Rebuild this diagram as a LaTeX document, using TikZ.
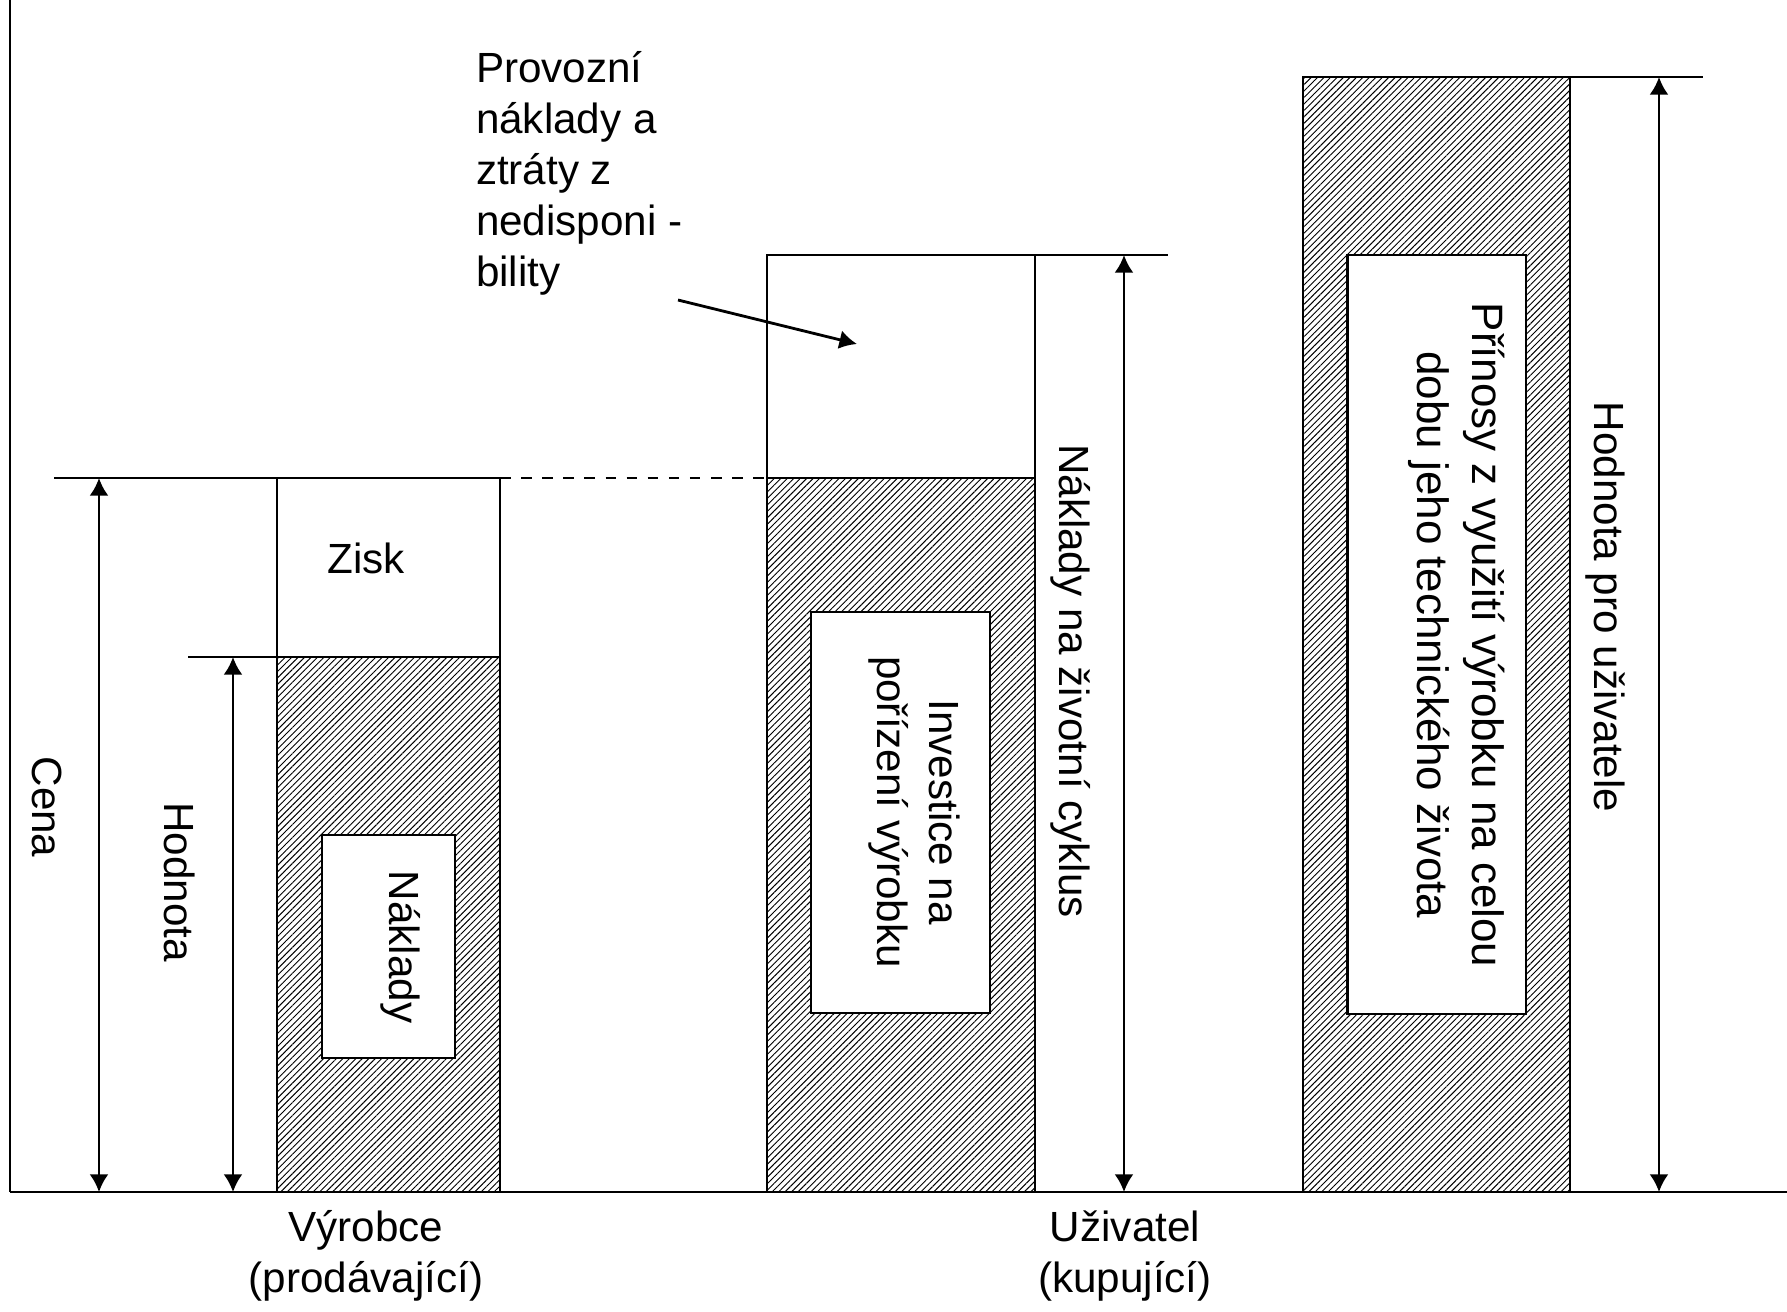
\documentclass[tikz,border=0pt]{standalone}
\usepackage{fontspec}
\setmainfont{Liberation Sans}
\usetikzlibrary{arrows.meta,patterns.meta}
\begin{document}
\begin{tikzpicture}[x=0.01cm,y=-0.01cm,line width=0.6pt,
  every node/.style={font=\fontsize{12}{14.5}\selectfont,inner sep=0pt},
  hatched/.style={draw,pattern={Lines[angle=45,distance=1.3pt,line width=0.27pt]}},
  whitebox/.style={draw,fill=white},
  dim/.style={line width=0.8pt,{Latex[length=5pt,width=5.4pt]}-{Latex[length=5pt,width=5.4pt]}},
  vtext/.style={rotate=-90,align=center}]
\useasboundingbox (0,0) rectangle (1787,1311);
% axes
\draw (10,0) -- (10,1192);
\draw[line width=0.8pt] (10,1192) -- (1787,1192);
% vyrobce
\draw[whitebox] (277,478) rectangle (500,657);
\draw[hatched] (277,657) rectangle (500,1192);
\node[whitebox,minimum width=1.33cm,minimum height=2.23cm] (nakladybox) at (388.5,946.5) {};
\node[rotate=-90] (naklady) at (401,947) {Náklady};
\node (zisk) at (366,558) {Zisk};
\draw (54,478) -- (277,478);
\draw (188,657) -- (277,657);
\draw[dashed] (500,478) -- (767,478);
\coordinate (cenaTop) at (99,478);
\coordinate (cenaBot) at (99,1192);
\coordinate (hodTop) at (233,657);
\coordinate (hodBot) at (233,1192);
\draw[dim] (cenaTop) -- (cenaBot);
\draw[dim] (hodTop) -- (hodBot);
\node[rotate=-90] (cena) at (47,807) {Cena};
\node[rotate=-90] (hodnota) at (180,882) {Hodnota};
% uzivatel - naklady
\draw[whitebox] (767,255) rectangle (1035,478);
\draw[hatched] (767,478) rectangle (1035,1192);
\node[whitebox,minimum width=1.79cm,minimum height=4.01cm] (investbox) at (900.5,812.5) {};
\node[vtext,font=\fontsize{12}{14.8}\selectfont] (invest) at (914,812) {Investice na\\pořízení výrobku};
\draw (1035,255) -- (1168,255);
\coordinate (lccTop) at (1124,255);
\coordinate (lccBot) at (1124,1192);
\draw[dim] (lccTop) -- (lccBot);
\node[rotate=-90] (lcc) at (1071,681) {Náklady na životní cyklus};
\node[align=left,anchor=west] (provozni) at (475,173)
  {Provozní\\náklady a\\ztráty z\\nedisponi -\\bility};
\coordinate (ptrStart) at (678,300);
\coordinate (ptrEnd) at (857,344);
\draw[line width=0.8pt,-{Latex[length=5pt,width=5.4pt]}] (ptrStart) -- (ptrEnd);
% uzivatel - hodnota
\draw[hatched] (1303,77) rectangle (1570,1192);
\node[whitebox,minimum width=1.78cm,minimum height=7.58cm] (prinosybox) at (1436.5,634.5) {};
\node[vtext,font=\fontsize{12.5}{15.6}\selectfont] (prinosy) at (1457,635)
  {Přínosy z využití výrobku na celou\\dobu jeho technického života};
\draw (1570,77) -- (1703,77);
\coordinate (valTop) at (1659,77);
\coordinate (valBot) at (1659,1192);
\draw[dim] (valTop) -- (valBot);
\node[rotate=-90] (hodnotaUziv) at (1605,607) {Hodnota pro uživatele};
% popisky
\node[align=center] (vyrobce) at (366,1256) {Výrobce\\(prodávající)};
\node[align=center] (uzivatel) at (1125,1256) {Uživatel\\(kupující)};
\end{tikzpicture}
\end{document}
